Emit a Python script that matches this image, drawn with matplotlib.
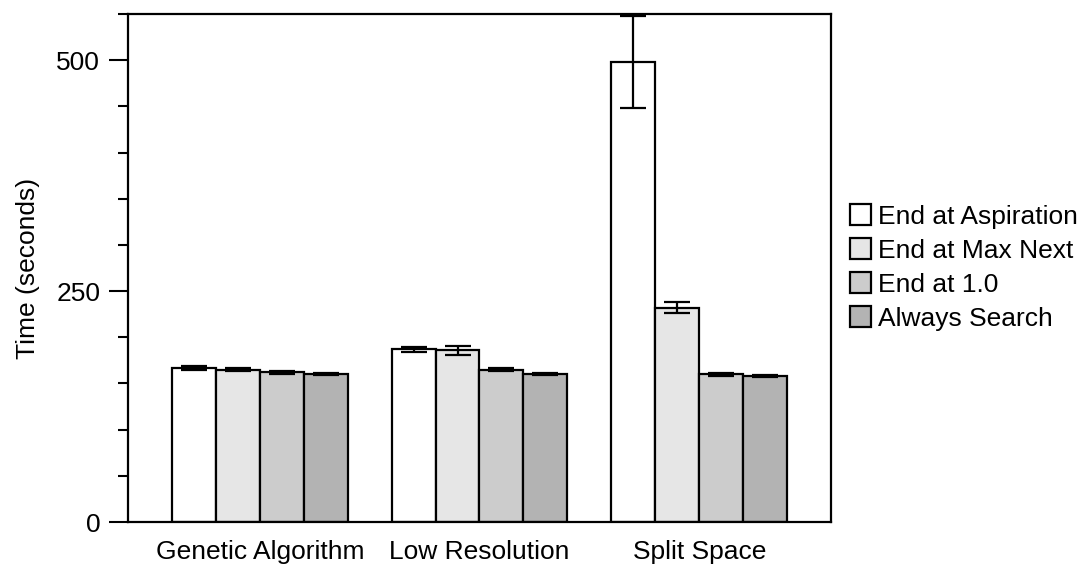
import numpy as np
import matplotlib
matplotlib.use("Agg")
import matplotlib.pyplot as plt
from matplotlib.ticker import MultipleLocator

plt.rcParams['font.family'] = ['Liberation Sans', 'DejaVu Sans']

categories = ["Genetic Algorithm", "Low Resolution", "Split Space"]
series = ["End at Aspiration", "End at Max Next", "End at 1.0", "Always Search"]
values = [
    [167, 187, 498],   # End at Aspiration
    [165, 186, 232],   # End at Max Next
    [162, 165, 160],   # End at 1.0
    [160, 160, 158],   # Always Search
]
errors = [
    [2, 3, 50],
    [2, 5, 6],
    [2, 1.5, 1.5],
    [1, 1, 1],
]
colors = ["#ffffff", "#e6e6e6", "#cccccc", "#b3b3b3"]

FS = 19

fig = plt.figure(figsize=(10.91, 5.65), dpi=100)
ax = fig.add_axes([0.1173, 0.0761, 0.6444, 0.8991])

x = np.arange(len(categories))
w = 0.2
for i, (s, v, e, c) in enumerate(zip(series, values, errors, colors)):
    pos = x + (i - 1.5) * w
    ax.bar(pos, v, width=w, color=c, edgecolor='black', linewidth=1.6, label=s, zorder=2)
    ax.errorbar(pos, v, yerr=e, fmt='none', ecolor='black', elinewidth=1.6,
                capsize=9.5, capthick=1.6, zorder=3)

ax.set_xlim(-0.6, 2.6)
ax.set_ylim(0, 550)
ax.set_xticks(x)
ax.set_xticklabels(categories, fontsize=FS)
ax.tick_params(axis='x', length=0, pad=13)
ax.yaxis.set_major_locator(MultipleLocator(250))
ax.yaxis.set_minor_locator(MultipleLocator(50))
ax.tick_params(axis='y', which='major', length=14, width=1.5, labelsize=FS, direction='out', pad=6)
ax.tick_params(axis='y', which='minor', length=7.5, width=1.5, direction='out')
for sp in ax.spines.values():
    sp.set_linewidth(1.6)
ax.set_ylabel("Time (seconds)", fontsize=FS, labelpad=12)

fig.legend(loc='center left', bbox_to_anchor=(0.779, 0.5265), frameon=False,
           fontsize=FS, handlelength=0.8, handleheight=0.8, handletextpad=0.27,
           labelspacing=0.37, borderpad=0, borderaxespad=0)

fig.savefig("out.png", dpi=100)
